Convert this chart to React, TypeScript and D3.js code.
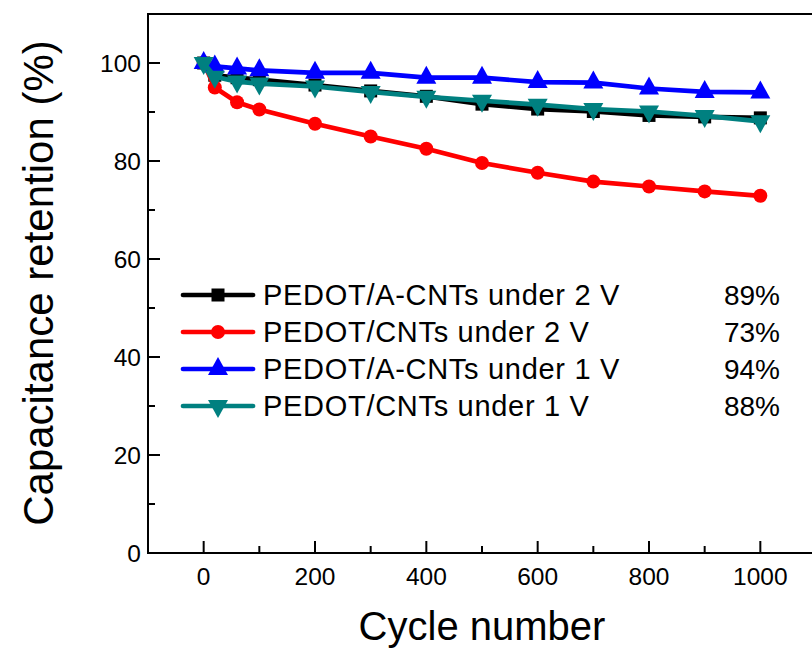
import React from "react";
import * as d3 from "d3";

const cycles = [0, 20, 60, 100, 200, 300, 400, 500, 600, 700, 800, 900, 1000];
const aCnt2V = [100, 97.5, 97, 96.6, 95.5, 94.3, 93.2, 91.6, 90.6, 90.1, 89.3, 89.0, 88.8];
const cnt2V = [100, 95, 92, 90.5, 87.6, 85, 82.5, 79.6, 77.6, 75.8, 74.8, 73.8, 72.9];
const aCnt1V = [100, 99.3, 98.9, 98.5, 98, 98, 97, 97, 96.1, 96, 94.8, 94.1, 94];
const cnt1V = [100, 97.2, 96.2, 95.8, 95.2, 94.1, 93.1, 92.3, 91.5, 90.6, 90.1, 89.2, 88.1];

const seriesNames = [
  "PEDOT/A-CNTs under 2 V",
  "PEDOT/CNTs under 2 V",
  "PEDOT/A-CNTs under 1 V",
  "PEDOT/CNTs under 1 V",
];
const retentionLabels = ["89%", "73%", "94%", "88%"];
const xTicks = [0, 200, 400, 600, 800, 1000];
const xMinor = [100, 300, 500, 700, 900];
const yTicks = [0, 20, 40, 60, 80, 100];
const yMinor = [10, 30, 50, 70, 90];

const colors = ["#000000", "#ff0000", "#0000ff", "#008080"];
const shapes = ["square", "circle", "up", "down"];
const allSeries = [aCnt2V, cnt2V, aCnt1V, cnt1V];

const FONT = "'Liberation Sans', Arial, sans-serif";

function Marker({ shape, x, y, color }: { shape: string; x: number; y: number; color: string }) {
  if (shape === "square") return <rect x={x - 6.5} y={y - 6.5} width={13} height={13} fill={color} />;
  if (shape === "circle") return <circle cx={x} cy={y} r={7} fill={color} />;
  if (shape === "up")
    return <path d={`M${x},${y - 12}L${x + 10},${y + 6}L${x - 10},${y + 6}Z`} fill={color} />;
  return <path d={`M${x},${y + 12}L${x + 10},${y - 6}L${x - 10},${y - 6}Z`} fill={color} />;
}

export default function App() {
  const W = 812;
  const H = 652;
  const left = 148;
  const right = 816;
  const top = 14;
  const bottom = 553;
  const x = d3.scaleLinear().domain([-100, 1100]).range([left, right]);
  const y = d3.scaleLinear().domain([0, 110]).range([bottom, top]);
  const line = d3
    .line<[number, number]>()
    .x((d) => x(d[0]))
    .y((d) => y(d[1]));

  const legendY0 = 295;
  const legendDy = 37;

  return (
    <svg
      width={W}
      height={H}
      style={{ position: "absolute", left: 0, top: 0, background: "#fff" }}
      fontFamily={FONT}
    >
      <rect x={0} y={0} width={W} height={H} fill="#fff" />
      {/* frame */}
      <rect x={left} y={top} width={right - left} height={bottom - top} fill="none" stroke="#000" strokeWidth={2} />
      {/* x ticks */}
      {xTicks.map((t) => (
        <g key={"xt" + t}>
          <line x1={x(t)} x2={x(t)} y1={bottom} y2={bottom - 12} stroke="#000" strokeWidth={2} />
          <text x={x(t)} y={bottom + 32} fontSize={24.5} textAnchor="middle" fill="#000">
            {t}
          </text>
        </g>
      ))}
      {xMinor.map((t) => (
        <line key={"xm" + t} x1={x(t)} x2={x(t)} y1={bottom} y2={bottom - 7} stroke="#000" strokeWidth={2} />
      ))}
      {/* y ticks */}
      {yTicks.map((t) => (
        <g key={"yt" + t}>
          <line x1={left} x2={left + 12} y1={y(t)} y2={y(t)} stroke="#000" strokeWidth={2} />
          <text x={left - 7} y={y(t) + 9} fontSize={24.5} textAnchor="end" fill="#000">
            {t}
          </text>
        </g>
      ))}
      {yMinor.map((t) => (
        <line key={"ym" + t} x1={left} x2={left + 7} y1={y(t)} y2={y(t)} stroke="#000" strokeWidth={2} />
      ))}
      {/* axis titles */}
      <text x={x(500)} y={640} fontSize={40} textAnchor="middle" fill="#000">
        Cycle number
      </text>
      <text
        transform={`translate(53,283) rotate(-90)`}
        fontSize={42}
        textAnchor="middle"
        fill="#000"
      >
        Capacitance retention (%)
      </text>
      {/* series */}
      {allSeries.map((vals, i) => {
        const pts: [number, number][] = cycles.map((c, j) => [c, vals[j]]);
        return (
          <g key={"s" + i}>
            <path d={line(pts) || ""} fill="none" stroke={colors[i]} strokeWidth={4.7} strokeLinejoin="round" />
            {pts.map((p, j) => (
              <Marker key={j} shape={shapes[i]} x={x(p[0])} y={y(p[1])} color={colors[i]} />
            ))}
          </g>
        );
      })}
      {/* legend */}
      {seriesNames.map((name, i) => {
        const ly = legendY0 + i * legendDy;
        return (
          <g key={"l" + i}>
            <line x1={183} x2={253} y1={ly} y2={ly} stroke={colors[i]} strokeWidth={4.7} strokeLinecap="round" />
            <Marker shape={shapes[i]} x={218} y={ly} color={colors[i]} />
            <text x={263} y={ly + 10} fontSize={29} letterSpacing={0.7} fill="#000">
              {name}
            </text>
            <text x={780} y={ly + 10} fontSize={28} textAnchor="end" fill="#000">
              {retentionLabels[i]}
            </text>
          </g>
        );
      })}
    </svg>
  );
}
